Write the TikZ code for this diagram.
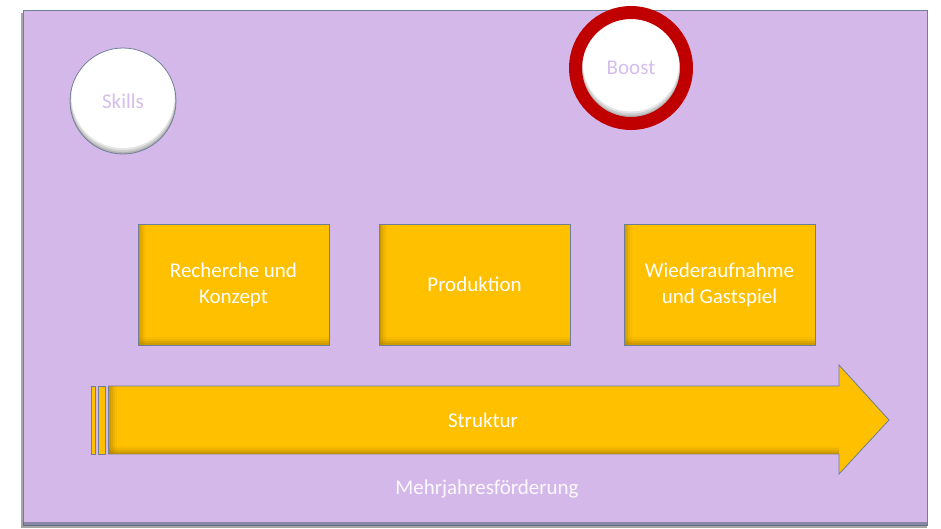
\documentclass[tikz,border=0pt]{standalone}
\usepackage{fontspec}
\setmainfont{Carlito}
\usetikzlibrary{calc}
\definecolor{bgpurple}{HTML}{D5B8EA}
\definecolor{edgeblue}{HTML}{6F7F96}
\definecolor{boxgold}{HTML}{FFC000}
\definecolor{boxshade}{HTML}{B08400}
\definecolor{ringred}{HTML}{C00000}
\definecolor{lilac}{HTML}{D6BEEC}
\tikzset{
  stepbox/.style={draw=edgeblue, line width=0.8pt, fill=boxgold, minimum width=191pt, minimum height=121pt,
    align=center, text=white, font=\fontsize{21}{26}\selectfont, inner sep=0pt,
    path picture={
      \foreach \w/\o in {2/0.35,4/0.25,6/0.15,8/0.08}{
        \fill[boxshade,opacity=\o] (path picture bounding box.south west) rectangle ([xshift=\w pt]path picture bounding box.north west);
        \fill[boxshade,opacity=\o] (path picture bounding box.south west) rectangle ([yshift=\w pt]path picture bounding box.south east);
      }
    }},
  bubble/.style={circle, draw=edgeblue, line width=0.8pt, fill=white, minimum size=#1, inner sep=0pt,
    text=lilac, font=\fontsize{21}{25}\selectfont,
    path picture={
      \fill[gray!60] (path picture bounding box.center) circle (#1/2);
      \fill[gray!40] ([yshift=1.5pt]path picture bounding box.center) circle (#1/2-0.5pt);
      \fill[gray!20] ([yshift=3pt]path picture bounding box.center) circle (#1/2-1pt);
      \fill[white] ([yshift=4.5pt]path picture bounding box.center) circle (#1/2-1.5pt);
    }},
  plaintext/.style={text=white, font=\fontsize{21}{26}\selectfont, inner sep=0pt},
  arrowpart/.style={draw=edgeblue, line width=0.8pt, fill=boxgold},
}
\begin{document}
\begin{tikzpicture}[x=1pt,y=-1pt]
\useasboundingbox (0,0) rectangle (941,528);
% background panel
\fill[gray!70] (21,13) rectangle (927,528);
\fill[bgpurple] (23,10) rectangle (927,525);
\draw[edgeblue, line width=0.8pt] (23,10) rectangle (927,525);
\fill[edgeblue!80!black, opacity=0.6] (23,522) rectangle (927,526);
% circles
\node[bubble=106pt] (skills) at (123,101) {Skills};
\node[bubble=99pt, draw=none] (boost) at (631,68) {Boost};
\draw[ringred, line width=13pt] (boost.center) circle (55.5);
% boxes
\node[stepbox] (b1) at (233.5,284.5) {Recherche und\\Konzept};
\node[stepbox] (b2) at (474.5,284.5) {Produktion};
\node[stepbox] (b3) at (719.5,284.5) {Wiederaufnahme\\und Gastspiel};
% arrow
\draw[arrowpart] (91.5,386) rectangle (95.5,454);
\draw[arrowpart] (98,386) rectangle (105.5,454);
\draw[arrowpart] (108.5,386) -- (839,386) -- (839,365) -- (889,420) -- (839,474) -- (839,454) -- (108.5,454) -- cycle;
\foreach \w/\o in {2/0.35,4/0.25,6/0.15,8/0.08}{
  \fill[boxshade, opacity=\o] (109,453.6-\w) rectangle (839,453.6);
  \fill[boxshade, opacity=\o] (109,386.4) rectangle (109+\w,453.6);
}
\node[plaintext] (struktur) at (483,420) {Struktur};
\node[plaintext, text=white!92!bgpurple] (mjf) at (487,489) {Mehrjahresförderung};
\end{tikzpicture}
\end{document}
